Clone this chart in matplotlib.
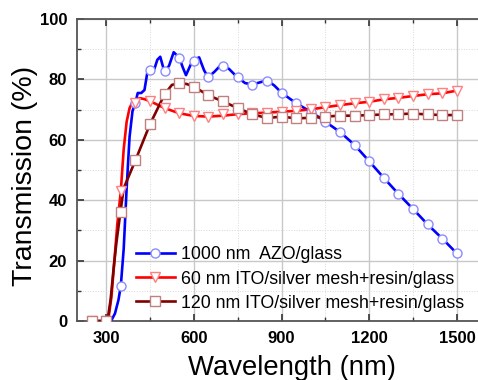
import numpy as np
import matplotlib.pyplot as plt
from matplotlib.ticker import MultipleLocator

# wavelengths of the markers (nm)
wl_marks = np.arange(250, 1501, 50)

azo_marks = [0, 0, 11.6, 72.3, 83.1, 82.8, 87.2, 86.1, 80.9, 84.5, 80.8, 78.3, 79.6,
             75.6, 72.1, 69.3, 66.0, 62.6, 58.3, 52.9, 47.4, 42.1, 37.1, 32.0, 27.3, 22.4]
ito60_marks = [0, 0, 43.0, 72.3, 72.8, 70.5, 68.8, 67.9, 67.7, 68.4, 68.5, 68.8, 69.0,
               69.3, 69.6, 70.1, 70.8, 71.5, 72.1, 72.6, 73.4, 73.9, 74.5, 75.1, 75.4, 76.3]
ito120_marks = [0, 0, 36.0, 53.2, 65.2, 75.1, 78.7, 77.6, 74.7, 72.7, 70.5, 68.5, 67.2,
                67.7, 67.1, 67.3, 67.7, 68.0, 68.0, 68.2, 68.4, 68.5, 68.7, 68.4, 68.2, 68.2]

azo_wl = [250, 300, 318, 330, 342, 350, 360, 370, 380, 390, 400, 408, 420, 431, 442, 450,
          465, 475, 485, 499, 515, 531, 550, 562, 573, 585, 596, 618, 635, 649, 670, 692,
          720, 749, 775, 800, 825, 850, 875, 900, 950, 1000, 1050, 1100, 1150, 1200, 1250,
          1300, 1350, 1400, 1450, 1500]
azo_T = [0, 0, 0.3, 2.5, 7, 11.6, 24, 44, 61, 69.5, 72.3, 75.5, 75.5, 76.5, 83, 83.3,
         83.5, 86.5, 87.5, 82.6, 84.5, 89, 87.2, 84, 81.4, 84, 86.3, 87.3, 83, 80.7, 82.5, 84.7,
         83.5, 80.7, 78.8, 78.3, 79, 79.7, 78, 75.6, 72.1, 69.3, 66.0, 62.6, 58.3, 52.9, 47.4,
         42.1, 37.1, 32.0, 27.3, 22.4]

ito60_wl = [250, 300, 308, 318, 328, 338, 350, 360, 370, 380, 390, 400, 415, 430, 450,
            500, 550, 600, 650, 700, 750, 800, 850, 900, 950, 1000, 1050, 1100, 1150, 1200,
            1250, 1300, 1350, 1400, 1450, 1500]
ito60_T = [0, 0, 1, 8, 20, 32, 43, 57, 66, 70.5, 72.5, 73.2, 73.8, 73.5, 72.8,
           70.5, 68.8, 67.9, 67.7, 68.0, 68.5, 68.8, 69.0, 69.3, 69.6, 70.1, 70.8, 71.5, 72.1, 72.6,
           73.4, 73.9, 74.5, 75.1, 75.4, 76.3]

ito120_wl = [250, 300, 305, 315, 325, 335, 350, 360, 400, 450, 500, 525, 550, 575, 600,
             650, 700, 750, 800, 850, 900, 950, 1000, 1050, 1100, 1150, 1200, 1250, 1300,
             1350, 1400, 1450, 1500]
ito120_T = [0, 0, 0.5, 7, 17, 26, 37, 44, 53.2, 65.2, 75.1, 78.2, 78.7, 78.5, 77.6,
            74.7, 72.7, 70.5, 68.5, 67.2, 67.7, 67.1, 67.3, 67.7, 68.0, 68.0, 68.2, 68.4, 68.5,
            68.7, 68.4, 68.2, 68.2]

labels = ['1000 nm  AZO/glass',
          '60 nm ITO/silver mesh+resin/glass',
          '120 nm ITO/silver mesh+resin/glass']

plt.rcParams['font.family'] = ['Liberation Sans', 'DejaVu Sans']

fig = plt.figure(figsize=(4.78, 3.80), dpi=100)
ax = fig.add_axes([0.161, 0.155, 0.856, 0.795])

series = [
    (azo_wl, azo_T, azo_marks, '#0000ff', '#8c8cff', 'o'),
    (ito60_wl, ito60_T, ito60_marks, '#ff0000', '#ff8080', 'v'),
    (ito120_wl, ito120_T, ito120_marks, '#800000', '#c08080', 's'),
]
for (lw_, lt, mk, col, ecol, m), lab in zip(series, labels):
    ax.plot(lw_, lt, color=col, lw=1.9, solid_joinstyle='round', zorder=3)
    ax.plot(wl_marks, mk, ls='none', marker=m, ms=6.5, mfc='white', mec=ecol, mew=1.0, zorder=4)
    ax.plot([], [], color=col, lw=1.9, marker=m, ms=6.5, mfc='white', mec=ecol, mew=1.0, label=lab)

ax.set_xlim(200, 1600)
ax.set_ylim(0, 100)
ax.xaxis.set_major_locator(MultipleLocator(300))
ax.xaxis.set_minor_locator(MultipleLocator(150))
ax.yaxis.set_major_locator(MultipleLocator(20))
ax.yaxis.set_minor_locator(MultipleLocator(10))

ax.grid(True, which='major', color='#c8c8c8', lw=1.0, zorder=0)
ax.grid(True, which='minor', color='#d8d8d8', lw=0.7, ls=':', zorder=0)
ax.set_axisbelow(True)

for s in ax.spines.values():
    s.set_color('#555555')
    s.set_linewidth(1.3)

ax.tick_params(which='both', direction='in', top=True, right=False, colors='#333333',
               labelcolor='black')
ax.tick_params(which='major', length=5, width=1.2, labelsize=12, pad=7)
ax.tick_params(which='minor', length=3, width=1.0)
for t in ax.get_xticklabels() + ax.get_yticklabels():
    t.set_fontweight('bold')

ax.set_xlabel('Wavelength (nm)', fontsize=19.8)
ax.set_ylabel('Transmission (%)', fontsize=20.5)
ax.xaxis.set_label_coords(0.526, -0.112)
ax.yaxis.set_label_coords(-0.094, 0.48)

ax.legend(loc='lower left', bbox_to_anchor=(0.113, -0.01), frameon=False, fontsize=12.8,
          handlelength=2.2, handletextpad=0.35, labelspacing=0.4, borderaxespad=0.3)

fig.savefig('out.png', dpi=100)
